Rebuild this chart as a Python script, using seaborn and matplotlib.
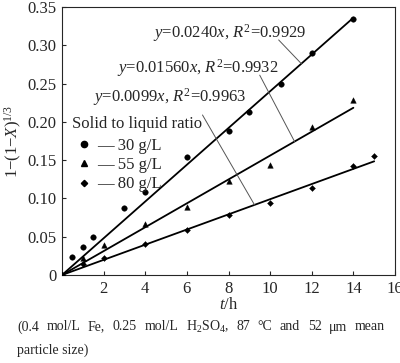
import numpy as np
import pandas as pd
import seaborn as sns
import matplotlib
matplotlib.use("Agg")
import matplotlib.pyplot as plt
from matplotlib.lines import Line2D

# ---- data ----
t30 = [0, 0.5, 1, 1.5, 3, 4, 6, 8, 9, 10.5, 12, 14]
y30 = [0, 0.024, 0.036, 0.050, 0.087, 0.109, 0.154, 0.188, 0.213, 0.250, 0.290, 0.334]
t55 = [0, 1, 2, 4, 6, 8, 10, 12, 14]
y55 = [0, 0.022, 0.039, 0.067, 0.089, 0.123, 0.144, 0.193, 0.228]
t80 = [0, 1, 2, 4, 6, 8, 10, 12, 14, 15]
y80 = [0, 0.014, 0.022, 0.041, 0.059, 0.078, 0.094, 0.113, 0.143, 0.156]
slopes = [0.0240, 0.01560, 0.0099]
fit_end = [14, 14, 15]
fit_labels = ["$y$=0.0240$x$, $R^2$=0.9929",
              "$y$=0.01560$x$, $R^2$=0.9932",
              "$y$=0.0099$x$, $R^2$=0.9963"]
ratios = ["30 g/L", "55 g/L", "80 g/L"]
markers = ["o", "^", "D"]
marker_sizes = [16, 16, 9]
xticks = [2, 4, 6, 8, 10, 12, 14, 16]
yticks = [0, 0.05, 0.10, 0.15, 0.20, 0.25, 0.30, 0.35]
ytick_labels = ["0", "0.05", "0.10", "0.15", "0.20", "0.25", "0.30", "0.35"]
# leader lines: (text point) -> (line point), data coords
leaders = [((10.41, 0.307), (11.5, 0.276)),
           ((9.50, 0.261), (11.18, 0.174)),
           ((6.75, 0.209), (9.25, 0.0916))]
caption1 = "(0.4 mol/L Fe, 0.25 mol/L H$_2$SO$_4$, 87 °C and 52 μm mean"
caption2 = "particle size)"

groups = [(t30, y30), (t55, y55), (t80, y80)]
df = pd.concat([pd.DataFrame({"t": tt, "y": yy, "ratio": r})
                for (tt, yy), r in zip(groups, ratios)])
fit_rows = []
for r, k, e in zip(ratios, slopes, fit_end):
    fit_rows.append({"t": 0, "y": 0, "ratio": r})
    fit_rows.append({"t": e, "y": k * e, "ratio": r})
fit_df = pd.DataFrame(fit_rows)

sns.set_style("ticks")
plt.rcParams["font.family"] = ["Liberation Serif", "DejaVu Serif"]
plt.rcParams["mathtext.fontset"] = "custom"
plt.rcParams["mathtext.rm"] = "Liberation Serif"
plt.rcParams["mathtext.it"] = "Liberation Serif:italic"

fig = plt.figure(figsize=(4.0, 3.63), dpi=100)
ax = fig.add_axes([0.155, 0.2424, 0.8325, 0.7383])

sns.lineplot(data=fit_df, x="t", y="y", units="ratio", estimator=None,
             color="black", lw=1.3, ax=ax, legend=False)
for r, m, s in zip(ratios, markers, marker_sizes):
    sns.scatterplot(data=df[df["ratio"] == r], x="t", y="y", marker=m, s=s,
                    color="black", edgecolor="black", linewidth=0.3,
                    ax=ax, legend=False, zorder=3)

for (p0, p1) in leaders:
    ax.plot([p0[0], p1[0]], [p0[1], p1[1]], color="#555555", lw=0.7)

ax.text(4.35, 0.3155, fit_labels[0], fontsize=12, va="center")
ax.text(2.65, 0.2700, fit_labels[1], fontsize=12, va="center")
ax.text(1.5, 0.2320, fit_labels[2], fontsize=12, va="center")

ax.set_xlim(0, 16)
ax.set_ylim(0, 0.35)
ax.set_xticks(xticks)
ax.set_xticklabels([str(v) for v in xticks], fontsize=12)
ax.set_yticks(yticks)
ax.set_yticklabels(ytick_labels, fontsize=12)
ax.tick_params(direction="in", length=3, width=0.8, pad=4)
for sp in ax.spines.values():
    sp.set_linewidth(0.8)
    sp.set_visible(True)
ax.set_xlabel("$t$/h", fontsize=12, labelpad=0)
ax.set_ylabel("1−(1−$X$)$^{1/3}$", fontsize=12, labelpad=2)

handles = [Line2D([], [], marker=m, color="black", ls="none",
                  markersize=(4.5 if m != "D" else 3.2)) for m in markers]
leg = ax.legend(handles, ["— " + r for r in ratios], title="Solid to liquid ratio",
                loc="upper left", bbox_to_anchor=(0.0, 0.63), frameon=False,
                fontsize=12, title_fontsize=12, handlelength=1.4, handletextpad=0.1,
                labelspacing=0.2, borderpad=0.1)
leg._legend_box.align = "left"
leg._legend_box.sep = 4

# justified caption line
fig.canvas.draw()
rend = fig.canvas.get_renderer()
words = caption1.split(" ")
x0, x1 = 17 / 400, 385 / 400
tmp = [fig.text(0, 0, w, fontsize=10) for w in words]
widths = [t.get_window_extent(rend).width / 400 for t in tmp]
for t in tmp:
    t.remove()
gap = (x1 - x0 - sum(widths)) / (len(words) - 1)
x = x0
for w, wd in zip(words, widths):
    fig.text(x, 1 - 327 / 363, w, fontsize=10, va="center")
    x += wd + gap
fig.text(x0, 1 - 350 / 363, caption2, fontsize=10, va="center")

fig.savefig("out.png", dpi=100)
